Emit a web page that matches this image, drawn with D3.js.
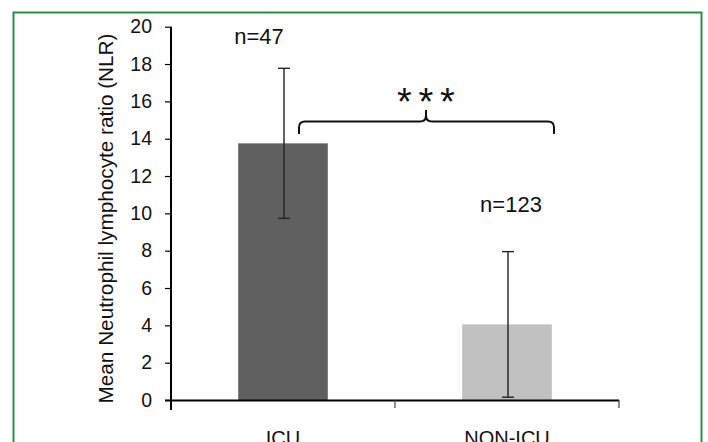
<!DOCTYPE html>
<html>
<head>
<meta charset="utf-8">
<script src="https://cdn.jsdelivr.net/npm/d3@7"></script>
<style>
  html, body { margin: 0; padding: 0; background: #fff; }
  svg { display: block; }
</style>
</head>
<body>
<script>
// ---- data ----
const categories = ["ICU", "NON-ICU"];
const meanNLR = [13.75, 4.05];
const sdNLR = [4.02, 3.9];
const nLabels = ["n=47", "n=123"];
const yTicks = [0, 2, 4, 6, 8, 10, 12, 14, 16, 18, 20];
const yTitle = "Mean Neutrophil lymphocyte ratio (NLR)";
const sigLabel = ["*", "*", "*"];
const barColors = ["#606060", "#c0c0c0"];

const W = 708, H = 442;
const svg = d3.select("body").append("svg").attr("width", W).attr("height", H);

svg.append("rect").attr("width", W).attr("height", H).attr("fill", "#fff");

// green frame (bottom edge is below the visible area)
svg.append("path")
  .attr("d", `M13.5,${H + 5} V12.5 H701.5 V${H + 5}`)
  .attr("fill", "none").attr("stroke", "#2e8b47").attr("stroke-width", 2);

const x = d3.scaleBand().domain(categories).range([171, 619]).paddingInner(0.6).paddingOuter(0.3);
const y = d3.scaleLinear().domain([0, 20]).range([400, 26.7]);

const font = "'Liberation Sans', Arial, sans-serif";

// bars
svg.selectAll("rect.bar").data(categories).join("rect")
  .attr("class", "bar")
  .attr("x", d => x(d))
  .attr("width", x.bandwidth())
  .attr("y", (d, i) => y(meanNLR[i]))
  .attr("height", (d, i) => y(0) - y(meanNLR[i]))
  .attr("fill", (d, i) => barColors[i]);

// error bars
const eg = svg.append("g").attr("stroke", "#222").attr("stroke-width", 1.4).attr("fill", "none");
categories.forEach((c, i) => {
  const cx = x(c) + x.bandwidth() / 2 + 1;
  const y1 = y(meanNLR[i] + sdNLR[i]), y2 = y(meanNLR[i] - sdNLR[i]);
  eg.append("line").attr("x1", cx).attr("x2", cx).attr("y1", y1).attr("y2", y2);
  eg.append("line").attr("x1", cx - 6).attr("x2", cx + 6).attr("y1", y1).attr("y2", y1);
  eg.append("line").attr("x1", cx - 6).attr("x2", cx + 6).attr("y1", y2).attr("y2", y2);
});

// y axis
const yAxis = svg.append("g").attr("transform", "translate(171,0)")
  .call(d3.axisLeft(y).tickValues(yTicks).tickSize(6).tickSizeOuter(0).tickPadding(13).tickFormat(d3.format("d")));
yAxis.select(".domain").remove();
yAxis.selectAll(".tick line").attr("stroke", "#000").attr("stroke-width", 1.2);
yAxis.selectAll(".tick text").attr("font-family", font).attr("font-size", 19.5).attr("fill", "#111");
svg.append("line").attr("x1", 171).attr("x2", 171).attr("y1", y(20)).attr("y2", 410)
  .attr("stroke", "#000").attr("stroke-width", 2);

// x axis
const xAxis = svg.append("g").attr("transform", "translate(0,400)")
  .call(d3.axisBottom(x).tickSize(0).tickPadding(31));
xAxis.select(".domain").remove();
xAxis.selectAll(".tick text").attr("font-family", font).attr("font-size", 20).attr("fill", "#111").attr("dy", "0.71em");
svg.append("line").attr("x1", 165).attr("x2", 619).attr("y1", 400.5).attr("y2", 400.5)
  .attr("stroke", "#000").attr("stroke-width", 1.8);
// category boundary ticks
[x.range()[0] + x.step(), x.range()[1]].forEach(bx => {
  svg.append("line").attr("x1", bx).attr("x2", bx).attr("y1", 400).attr("y2", 408)
    .attr("stroke", "#444").attr("stroke-width", 1.2);
});

// y title
svg.append("text")
  .attr("transform", "translate(113,218.5) rotate(-90)")
  .attr("text-anchor", "middle")
  .attr("font-family", font).attr("font-size", 20).attr("fill", "#111")
  .attr("textLength", 370).attr("lengthAdjust", "spacingAndGlyphs")
  .text(yTitle);

// n labels
svg.append("text").attr("x", x(categories[0]) + x.bandwidth() / 2 - 24).attr("y", 44)
  .attr("text-anchor", "middle").attr("font-family", font).attr("font-size", 22).attr("fill", "#111")
  .text(nLabels[0]);
svg.append("text").attr("x", x(categories[1]) + x.bandwidth() / 2 + 4).attr("y", 212)
  .attr("text-anchor", "middle").attr("font-family", font).attr("font-size", 22).attr("fill", "#111")
  .text(nLabels[1]);

// significance brace
const bx1 = 299, bx2 = 554, bmid = 426, by = 121.5;
const r = 6;
svg.append("path")
  .attr("d", `M${bx1},134 V${by + r} Q${bx1},${by} ${bx1 + r},${by} H${bmid - r} Q${bmid},${by} ${bmid},${by - r} L${bmid},110
              M${bmid},${by - r} Q${bmid},${by} ${bmid + r},${by} H${bx2 - r} Q${bx2},${by} ${bx2},${by + r} V134`)
  .attr("fill", "none").attr("stroke", "#111").attr("stroke-width", 2);
sigLabel.forEach((s, i) => {
  svg.append("text").attr("x", bmid + (i - 1) * 21.5).attr("y", 115)
    .attr("text-anchor", "middle").attr("font-family", font).attr("font-size", 38).attr("fill", "#111")
    .text(s);
});
</script>
</body>
</html>
